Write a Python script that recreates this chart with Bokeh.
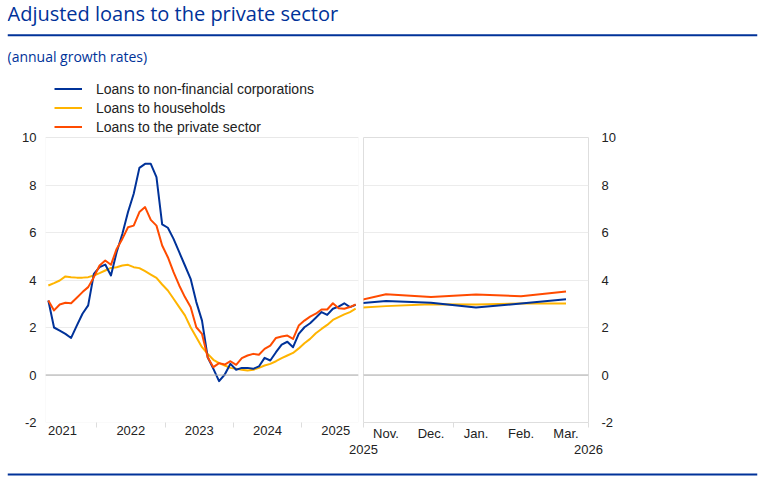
from bokeh.plotting import figure
from bokeh.models import Range1d, FixedTicker, Span, Label, Legend, LegendItem, BoxAnnotation
from bokeh.layouts import column, row
from bokeh.embed import file_html
from bokeh.resources import INLINE

TITLE = "Adjusted loans to the private sector"
SUBTITLE = "(annual growth rates)"
SERIES = ["Loans to non-financial corporations", "Loans to households", "Loans to the private sector"]
COLORS = ["#003299", "#FFB400", "#FF4B00"]

# left panel: monthly, April 2021 - October 2025
LEFT_START = (2021, 4)
nfc_left = [3.14, 2.0, 1.87, 1.73, 1.56, 2.08, 2.58, 2.93, 4.26, 4.54, 4.65, 4.19, 5.17, 5.94, 6.86,
            7.63, 8.72, 8.89, 8.89, 8.33, 6.34, 6.2, 5.73, 5.17, 4.61, 4.05, 3.07, 2.29, 0.75, 0.26,
            -0.26, 0.02, 0.47, 0.22, 0.3, 0.3, 0.26, 0.36, 0.72, 0.61, 0.96, 1.28, 1.4, 1.17, 1.73,
            2.01, 2.18, 2.41, 2.65, 2.53, 2.79, 2.88, 3.02, 2.86, 2.95]
hh_left = [3.77, 3.87, 3.98, 4.15, 4.12, 4.1, 4.1, 4.12, 4.19, 4.29, 4.4, 4.51, 4.54, 4.61, 4.64,
           4.54, 4.5, 4.37, 4.23, 4.09, 3.81, 3.56, 3.21, 2.86, 2.51, 2.01, 1.59, 1.17, 0.89, 0.64,
           0.5, 0.4, 0.3, 0.26, 0.22, 0.19, 0.22, 0.3, 0.4, 0.47, 0.58, 0.71, 0.82, 0.93, 1.12,
           1.34, 1.52, 1.76, 1.94, 2.11, 2.32, 2.44, 2.55, 2.65, 2.79]
ps_left = [3.14, 2.72, 2.97, 3.04, 3.02, 3.25, 3.49, 3.7, 4.12, 4.61, 4.82, 4.64, 5.31, 5.73, 6.22,
           6.29, 6.86, 7.07, 6.53, 6.29, 5.45, 4.96, 4.33, 3.77, 3.28, 2.86, 2.01, 1.73, 0.75, 0.33,
           0.5, 0.44, 0.58, 0.43, 0.71, 0.82, 0.89, 0.85, 1.1, 1.24, 1.56, 1.62, 1.66, 1.52, 2.08,
           2.29, 2.46, 2.58, 2.76, 2.76, 3.02, 2.81, 2.79, 2.86, 2.97]
YEARS = ["2021", "2022", "2023", "2024", "2025"]

# right panel: October 2025 - March 2026
RIGHT_MONTHS = [(2025, 10), (2025, 11), (2025, 12), (2026, 1), (2026, 2), (2026, 3)]
nfc_right = [2.95, 3.12, 3.04, 2.84, 3.01, 3.19]
hh_right = [2.79, 2.9, 2.98, 2.97, 3.01, 3.01]
ps_right = [2.97, 3.4, 3.28, 3.39, 3.32, 3.52]
MONTH_LABELS = ["Nov.", "Dec.", "Jan.", "Feb.", "Mar."]
RIGHT_YEARS = ["2025", "2026"]

Y_MIN, Y_MAX = -2, 10
Y_TICKS = [-2, 0, 2, 4, 6, 8, 10]
Y_LABELS = ["-2", "0", "2", "4", "6", "8", "10"]

BLUE = "#003299"
TXT = "#222222"
FONT = "Liberation Sans"
FRAME_COLOR = "#dedede"


def month_pos(y, m, y0, m0):
    return (y - y0) * 12 + (m - m0) + 0.5


left_x = []
for i in range(len(nfc_left)):
    k = LEFT_START[1] - 1 + i
    left_x.append(month_pos(LEFT_START[0] + k // 12, k % 12 + 1, 2021, 1))
right_x = [month_pos(y, m, 2025, 11) for (y, m) in RIGHT_MONTHS]

COMMON = dict(toolbar_location=None, output_backend="svg", frame_align=False)
W = 762
HDR_H = 78
TOP = 59        # space above panel frames (legend area)
PLOT_H = 285    # panel frame height
BOT = 21        # space under panel frames

# ---------------- header ----------------
hdr = figure(width=W, height=HDR_H, x_range=Range1d(0, 750), y_range=Range1d(HDR_H, 0),
             min_border_left=7, min_border_right=5, min_border_top=0, min_border_bottom=0,
             x_axis_type=None, y_axis_type=None, outline_line_color=None, **COMMON)
hdr.grid.visible = False
hdr.add_layout(Label(x=0, y=12.5, text=TITLE, text_font="Open Sans", text_font_size="20px",
                     text_color=BLUE, text_baseline="middle"))
hdr.add_layout(Span(location=34.7, dimension="width", line_color=BLUE, line_width=2))
hdr.add_layout(Label(x=0, y=55.5, text=SUBTITLE, text_font="Open Sans", text_font_size="14px",
                     text_color=BLUE, text_baseline="middle"))


def style_panel(p):
    p.xgrid.visible = False
    p.ygrid.ticker = FixedTicker(ticks=Y_TICKS)
    p.ygrid.grid_line_color = "#ececec"
    p.add_layout(Span(location=0, dimension="width", line_color="#aaaaaa", line_width=1))
    for ax in p.axis:
        ax.axis_line_color = None
        ax.major_tick_line_color = None
        ax.major_tick_out = 0
        ax.major_tick_in = 0
        ax.minor_tick_line_color = "#dddddd"
        ax.minor_tick_out = 5
        ax.minor_tick_in = 0
        ax.major_label_text_font = FONT
        ax.major_label_text_font_size = "13px"
        ax.major_label_text_color = TXT
    p.yaxis.ticker = FixedTicker(ticks=Y_TICKS)
    p.yaxis.major_label_overrides = {t: s for t, s in zip(Y_TICKS, Y_LABELS)}
    p.yaxis.minor_tick_line_color = None
    p.yaxis.minor_tick_out = 0
    p.xaxis.major_label_standoff = -2


# ---------------- left panel (frame extended upward to hold the legend) ----------------
left_top = Y_MAX + (Y_MAX - Y_MIN) * TOP / PLOT_H
left = figure(width=360, height=TOP + PLOT_H + BOT, x_range=Range1d(3, 58),
              y_range=Range1d(Y_MIN, left_top),
              min_border_left=45, min_border_right=2, min_border_top=0, min_border_bottom=BOT,
              outline_line_color=None, **COMMON)
left.add_layout(BoxAnnotation(bottom=Y_MIN, top=Y_MAX, fill_alpha=0, line_color=FRAME_COLOR,
                              line_width=1))
r_hh = left.line(left_x, hh_left, line_color=COLORS[1], line_width=2, line_join="round")
r_nfc = left.line(left_x, nfc_left, line_color=COLORS[0], line_width=2, line_join="round")
r_ps = left.line(left_x, ps_left, line_color=COLORS[2], line_width=2, line_join="round")
style_panel(left)
year_pos = [(int(y) - 2021) * 12 + 6 for y in YEARS]
left.xaxis.ticker = FixedTicker(ticks=year_pos, minor_ticks=[p + 6 for p in year_pos[:-1]])
left.xaxis.major_label_overrides = {p: y for p, y in zip(year_pos, YEARS)}
left.yaxis.major_label_standoff = 9

legend = Legend(items=[LegendItem(label=SERIES[0], renderers=[r_nfc]),
                       LegendItem(label=SERIES[1], renderers=[r_hh]),
                       LegendItem(label=SERIES[2], renderers=[r_ps])],
                location=(9, PLOT_H + 1), orientation="vertical",
                border_line_color=None, background_fill_alpha=0,
                padding=1, margin=0, spacing=0,
                glyph_width=28, glyph_height=19, label_height=19, label_standoff=14,
                label_text_font=FONT, label_text_font_size="14px", label_text_color=TXT)
left.add_layout(legend)

# ---------------- right panel ----------------
xr_right = Range1d(0, 5)
right = figure(width=402, height=TOP + PLOT_H + BOT, x_range=xr_right,
               y_range=Range1d(Y_MIN, Y_MAX), y_axis_location="right",
               min_border_left=3, min_border_right=174, min_border_top=TOP, min_border_bottom=BOT,
               outline_line_color=FRAME_COLOR, **COMMON)
right.line(right_x, hh_right, line_color=COLORS[1], line_width=2, line_join="round")
right.line(right_x, nfc_right, line_color=COLORS[0], line_width=2, line_join="round")
right.line(right_x, ps_right, line_color=COLORS[2], line_width=2, line_join="round")
style_panel(right)
mpos = [right_x[i + 1] for i in range(len(MONTH_LABELS))]
right.xaxis.ticker = FixedTicker(ticks=mpos, minor_ticks=[0, 2, 5])
right.xaxis.major_label_overrides = {p: t for p, t in zip(mpos, MONTH_LABELS)}
right.yaxis.major_label_standoff = 13

# ---------------- footer: year row for right panel ----------------
ftr = figure(width=W, height=23, x_range=xr_right, y_range=Range1d(0, 1), y_axis_type=None,
             min_border_left=363, min_border_right=174, min_border_top=0, min_border_bottom=22,
             outline_line_color=None, **COMMON)
ftr.grid.visible = False
ftr.xaxis.ticker = FixedTicker(ticks=[0, 5])
ftr.xaxis.major_label_overrides = {0: RIGHT_YEARS[0], 5: RIGHT_YEARS[1]}
ftr.xaxis.axis_line_color = None
ftr.xaxis.major_tick_line_color = None
ftr.xaxis.major_tick_out = 0
ftr.xaxis.major_tick_in = 0
ftr.xaxis.minor_tick_line_color = None
ftr.xaxis.minor_tick_out = 0
ftr.xaxis.major_label_standoff = 0
ftr.xaxis.major_label_text_font = FONT
ftr.xaxis.major_label_text_font_size = "13px"
ftr.xaxis.major_label_text_color = TXT

# ---------------- bottom rule ----------------
rule = figure(width=W, height=10, x_range=Range1d(0, 750), y_range=Range1d(10, 0),
              min_border_left=7, min_border_right=5, min_border_top=0, min_border_bottom=0,
              x_axis_type=None, y_axis_type=None, outline_line_color=None, **COMMON)
rule.grid.visible = False
rule.add_layout(Span(location=6, dimension="width", line_color=BLUE, line_width=2))

page = column(hdr, row(left, right), ftr, rule)
open("out.html", "w").write(file_html(page, INLINE))
